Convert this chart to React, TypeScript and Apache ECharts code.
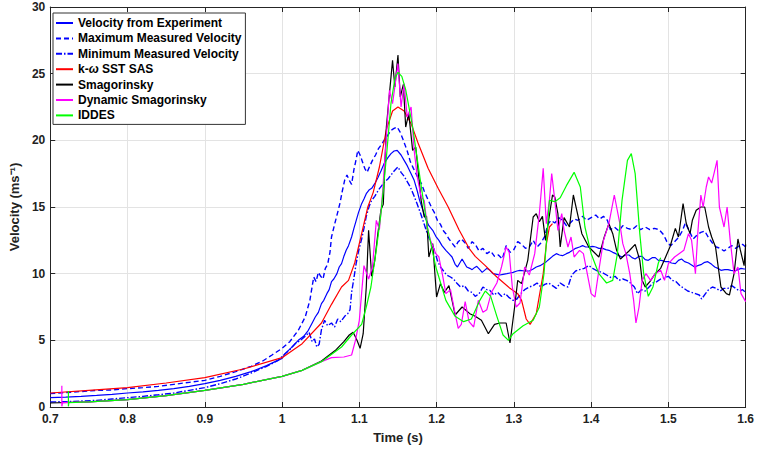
import React, { useEffect, useRef } from "react";
import * as echarts from "echarts";

type P = [number, number];

const xTicksMin = 0.7;
const xTicksMax = 1.6;
const yTicksMin = 0;
const yTicksMax = 30;

const seriesNames = [
  "Velocity from Experiment",
  "Maximum Measured Velocity",
  "Minimum Measured Velocity",
  "k-\u03c9 SST SAS",
  "Smagorinsky",
  "Dynamic Smagorinsky",
  "IDDES",
];

const expMean: P[] = [
  [0.700,0.70],[0.720,0.74],[0.740,0.80],[0.760,0.87],[0.780,0.95],[0.800,1.05],[0.820,1.14],[0.840,1.25],[0.860,1.38],[0.880,1.55],[0.900,1.75],[0.920,2.00],[0.940,2.30],[0.960,2.65],[0.980,3.10],[1.000,3.65],[1.004,4.00],[1.012,4.45],[1.021,5.00],[1.028,5.30],[1.034,5.75],[1.039,6.30],[1.043,6.75],[1.047,7.10],[1.051,7.75],[1.054,8.00],[1.058,8.50],[1.061,8.80],[1.064,9.40],[1.067,9.60],[1.071,10.00],[1.074,10.50],[1.077,10.75],[1.080,11.30],[1.083,11.75],[1.086,12.10],[1.090,12.75],[1.093,13.40],[1.096,14.00],[1.099,14.60],[1.103,15.25],[1.106,15.60],[1.109,16.00],[1.113,16.30],[1.116,16.40],[1.120,16.75],[1.124,17.20],[1.128,17.70],[1.132,18.25],[1.137,18.70],[1.141,19.00],[1.145,19.20],[1.149,19.25],[1.154,18.90],[1.158,18.50],[1.162,18.10],[1.167,17.50],[1.171,17.00],[1.175,16.20],[1.178,15.50],[1.182,14.80],[1.186,14.10],[1.190,13.60],[1.195,13.25],[1.199,12.80],[1.203,12.50],[1.207,12.10],[1.212,11.75],[1.216,11.50],[1.220,11.25],[1.224,10.70],[1.227,10.50],[1.230,10.80],[1.233,11.10],[1.236,10.80],[1.239,10.50],[1.243,10.40],[1.246,10.30],[1.249,10.45],[1.252,10.55],[1.256,10.30],[1.259,10.10],[1.262,10.25],[1.265,10.40],[1.269,10.25],[1.273,10.00],[1.278,9.95],[1.282,9.90],[1.286,9.95],[1.291,10.00],[1.295,10.05],[1.299,10.10],[1.304,10.20],[1.308,10.25],[1.314,10.20],[1.320,10.20],[1.325,10.35],[1.329,10.50],[1.334,10.60],[1.338,10.75],[1.342,10.90],[1.346,11.10],[1.350,11.30],[1.355,11.50],[1.359,11.40],[1.363,11.35],[1.368,11.50],[1.372,11.60],[1.376,11.75],[1.380,11.90],[1.385,12.00],[1.389,12.10],[1.393,12.00],[1.397,12.00],[1.402,12.05],[1.406,12.00],[1.410,11.90],[1.415,11.90],[1.419,11.80],[1.423,11.75],[1.428,11.60],[1.432,11.50],[1.436,11.35],[1.440,11.25],[1.444,11.40],[1.449,11.40],[1.453,11.20],[1.457,11.10],[1.462,11.30],[1.466,11.30],[1.470,11.05],[1.474,11.00],[1.479,11.20],[1.483,11.20],[1.487,11.00],[1.491,11.00],[1.496,10.90],[1.500,10.90],[1.504,10.80],[1.509,10.75],[1.513,11.00],[1.517,11.10],[1.521,10.90],[1.526,10.80],[1.530,10.65],[1.534,10.50],[1.538,10.60],[1.543,10.70],[1.547,10.85],[1.551,10.90],[1.556,10.70],[1.560,10.50],[1.564,10.40],[1.568,10.25],[1.573,10.30],[1.577,10.30],[1.581,10.25],[1.586,10.20],[1.590,10.30],[1.594,10.40],[1.598,10.35],[1.600,10.35],
];

const expMax: P[] = [
  [0.700,1.00],[0.720,1.08],[0.740,1.16],[0.760,1.24],[0.780,1.28],[0.800,1.38],[0.820,1.45],[0.840,1.55],[0.860,1.70],[0.880,1.85],[0.900,2.00],[0.920,2.30],[0.940,2.65],[0.960,3.05],[0.975,3.45],[0.987,3.90],[1.000,4.40],[1.010,4.90],[1.021,5.75],[1.030,6.75],[1.036,8.00],[1.041,9.75],[1.044,9.40],[1.047,10.10],[1.050,9.80],[1.053,9.60],[1.056,10.40],[1.059,10.70],[1.062,11.60],[1.064,12.75],[1.068,13.70],[1.072,14.60],[1.075,15.30],[1.078,16.20],[1.081,17.00],[1.084,17.40],[1.087,17.00],[1.090,16.70],[1.093,17.80],[1.096,18.60],[1.098,19.25],[1.101,18.90],[1.104,18.40],[1.107,17.90],[1.110,17.60],[1.113,18.00],[1.117,18.50],[1.121,18.90],[1.125,19.40],[1.129,19.70],[1.133,20.10],[1.137,20.40],[1.141,20.75],[1.145,20.90],[1.149,21.00],[1.153,20.60],[1.157,20.00],[1.162,19.20],[1.166,18.40],[1.170,17.90],[1.175,17.30],[1.180,16.80],[1.184,16.20],[1.190,15.40],[1.194,14.90],[1.197,14.60],[1.201,14.00],[1.205,13.70],[1.209,13.20],[1.212,13.00],[1.216,12.60],[1.220,12.30],[1.224,12.00],[1.228,12.40],[1.232,12.60],[1.237,12.30],[1.241,11.90],[1.246,12.40],[1.250,12.20],[1.255,11.70],[1.260,11.90],[1.265,11.50],[1.270,11.70],[1.275,11.30],[1.280,11.40],[1.285,11.10],[1.290,12.10],[1.295,11.60],[1.300,11.80],[1.305,12.40],[1.310,12.20],[1.315,11.90],[1.320,12.00],[1.325,12.50],[1.330,12.00],[1.335,12.30],[1.340,12.80],[1.344,13.70],[1.348,14.00],[1.353,13.80],[1.358,14.20],[1.363,14.00],[1.368,13.60],[1.373,13.80],[1.378,14.10],[1.383,14.00],[1.389,14.30],[1.394,14.00],[1.400,14.20],[1.406,14.40],[1.411,14.10],[1.416,14.30],[1.421,14.00],[1.425,13.30],[1.430,13.50],[1.436,13.20],[1.441,13.60],[1.447,13.40],[1.453,13.30],[1.459,13.60],[1.464,13.30],[1.470,13.50],[1.476,13.30],[1.482,13.40],[1.488,13.30],[1.494,12.90],[1.498,12.40],[1.503,12.10],[1.508,12.40],[1.513,12.70],[1.518,13.20],[1.522,13.80],[1.527,13.20],[1.532,12.60],[1.537,12.90],[1.542,13.10],[1.547,13.20],[1.552,12.70],[1.557,12.30],[1.562,12.00],[1.567,11.90],[1.572,11.70],[1.577,11.90],[1.582,12.10],[1.587,11.90],[1.592,12.10],[1.596,12.20],[1.600,12.00],
];

const expMin: P[] = [
  [0.700,0.38],[0.720,0.40],[0.740,0.45],[0.760,0.50],[0.780,0.60],[0.800,0.70],[0.820,0.80],[0.840,0.92],[0.860,1.05],[0.880,1.25],[0.900,1.45],[0.920,1.75],[0.940,2.10],[0.960,2.55],[0.980,3.05],[0.995,3.50],[1.004,4.00],[1.010,4.30],[1.017,4.75],[1.024,5.00],[1.030,5.30],[1.035,5.60],[1.039,4.90],[1.042,5.10],[1.045,4.50],[1.048,4.70],[1.051,5.80],[1.055,6.50],[1.059,6.10],[1.064,6.30],[1.068,6.00],[1.072,6.60],[1.076,6.40],[1.081,6.80],[1.085,7.00],[1.088,7.30],[1.090,8.60],[1.092,9.30],[1.096,10.80],[1.099,11.70],[1.103,12.60],[1.106,13.40],[1.109,14.30],[1.113,15.10],[1.116,15.50],[1.120,15.80],[1.125,16.30],[1.129,16.60],[1.133,16.90],[1.137,17.10],[1.141,17.40],[1.145,17.70],[1.150,18.00],[1.154,17.60],[1.158,17.30],[1.162,16.90],[1.166,16.50],[1.171,15.80],[1.175,15.20],[1.180,14.40],[1.184,13.70],[1.188,13.00],[1.192,12.40],[1.197,11.80],[1.201,11.00],[1.205,10.50],[1.209,10.20],[1.213,9.90],[1.218,9.75],[1.222,9.60],[1.226,9.30],[1.231,9.00],[1.236,9.10],[1.241,8.70],[1.246,8.60],[1.250,8.30],[1.255,8.50],[1.260,9.00],[1.265,8.80],[1.269,8.75],[1.274,8.40],[1.279,8.60],[1.284,8.30],[1.289,8.50],[1.294,8.20],[1.299,8.00],[1.304,8.10],[1.309,8.50],[1.314,8.80],[1.320,9.00],[1.325,9.10],[1.330,9.30],[1.335,9.00],[1.340,9.20],[1.345,9.30],[1.350,9.10],[1.355,8.90],[1.360,9.30],[1.365,9.10],[1.370,9.00],[1.375,9.90],[1.380,10.20],[1.385,10.30],[1.391,10.40],[1.397,10.60],[1.402,10.40],[1.408,10.20],[1.414,10.10],[1.420,9.90],[1.426,9.70],[1.431,9.80],[1.436,9.50],[1.441,9.60],[1.446,9.50],[1.451,9.30],[1.456,9.00],[1.460,8.50],[1.465,8.80],[1.470,8.70],[1.475,9.00],[1.480,9.30],[1.485,9.40],[1.490,9.60],[1.495,9.70],[1.500,9.80],[1.505,9.50],[1.510,9.40],[1.515,9.10],[1.520,8.90],[1.525,8.70],[1.530,8.60],[1.535,8.50],[1.540,8.40],[1.543,8.10],[1.548,8.50],[1.552,8.80],[1.557,9.00],[1.562,8.90],[1.567,8.70],[1.572,8.90],[1.577,8.90],[1.582,9.10],[1.587,8.90],[1.592,8.70],[1.596,8.80],[1.600,8.60],
];

const sstSas: P[] = [
  [0.700,1.05],[0.750,1.25],[0.800,1.45],[0.850,1.80],[0.900,2.20],[0.950,2.85],[1.000,3.70],[1.026,4.75],[1.051,6.30],[1.064,7.70],[1.077,9.00],[1.086,9.50],[1.094,10.80],[1.103,13.00],[1.111,15.00],[1.118,16.10],[1.126,18.00],[1.135,20.80],[1.143,22.20],[1.150,22.50],[1.158,22.20],[1.167,21.25],[1.176,19.80],[1.189,17.90],[1.202,16.40],[1.215,15.00],[1.229,13.30],[1.242,11.90],[1.250,11.30],[1.263,10.60],[1.278,9.75],[1.295,8.90],[1.305,8.50],[1.310,8.00],[1.316,6.60],[1.321,6.20],[1.329,7.00],[1.338,10.00],[1.342,12.20],[1.346,13.50],[1.350,13.75],
];

const smagorinsky: P[] = [
  [0.700,0.30],[0.750,0.38],[0.800,0.55],[0.850,0.85],[0.900,1.25],[0.950,1.70],[1.000,2.30],[1.026,2.75],[1.051,3.45],[1.070,4.30],[1.080,4.90],[1.087,5.40],[1.092,5.60],[1.097,5.00],[1.101,4.40],[1.105,5.50],[1.109,9.00],[1.112,13.25],[1.116,9.80],[1.120,11.00],[1.124,13.00],[1.128,14.80],[1.131,15.20],[1.135,21.00],[1.139,23.50],[1.143,26.00],[1.146,24.00],[1.150,26.40],[1.153,23.25],[1.157,24.20],[1.160,21.00],[1.164,22.00],[1.169,19.25],[1.173,19.50],[1.180,15.50],[1.184,14.25],[1.187,14.30],[1.190,11.25],[1.195,12.25],[1.200,8.25],[1.205,9.25],[1.210,8.60],[1.216,9.10],[1.224,6.90],[1.233,7.50],[1.243,7.00],[1.250,6.80],[1.258,6.50],[1.267,5.50],[1.275,6.20],[1.282,6.30],[1.290,6.30],[1.295,4.80],[1.301,7.50],[1.305,9.50],[1.310,9.25],[1.318,11.00],[1.325,14.25],[1.329,14.50],[1.333,13.90],[1.337,14.30],[1.341,12.50],[1.345,14.00],[1.350,15.90],[1.353,15.75],[1.357,14.50],[1.360,12.00],[1.365,14.20],[1.372,13.50],[1.377,15.90],[1.382,14.60],[1.388,13.00],[1.397,12.00],[1.410,11.25],[1.417,12.75],[1.423,13.75],[1.428,13.00],[1.433,11.75],[1.438,11.10],[1.449,11.70],[1.457,12.20],[1.463,11.00],[1.466,9.50],[1.470,9.00],[1.476,9.40],[1.483,10.00],[1.490,10.40],[1.496,11.20],[1.502,12.00],[1.509,13.40],[1.513,12.75],[1.519,15.25],[1.523,13.80],[1.528,13.00],[1.531,14.00],[1.536,14.75],[1.542,15.00],[1.547,15.00],[1.552,13.50],[1.556,12.75],[1.561,12.00],[1.568,9.00],[1.575,8.50],[1.579,8.40],[1.585,10.00],[1.590,12.60],[1.593,11.80],[1.598,10.60],[1.600,12.20],
];

const dynSmagorinsky: P[] = [
  [0.715,1.60],[0.715,0.05],[0.716,0.33],[0.750,0.38],[0.800,0.55],[0.850,0.85],[0.900,1.25],[0.950,1.70],[1.000,2.30],[1.026,2.75],[1.051,3.40],[1.064,3.70],[1.080,3.75],[1.090,3.90],[1.095,5.00],[1.100,6.50],[1.106,10.60],[1.112,9.60],[1.117,10.50],[1.122,14.00],[1.126,13.30],[1.130,16.00],[1.135,20.25],[1.139,23.75],[1.143,22.75],[1.150,25.75],[1.154,22.50],[1.158,24.25],[1.162,21.75],[1.167,22.50],[1.171,19.25],[1.175,17.25],[1.180,15.75],[1.184,15.50],[1.188,13.50],[1.192,12.50],[1.199,11.50],[1.203,11.25],[1.208,9.80],[1.212,8.50],[1.218,8.80],[1.224,7.00],[1.228,5.90],[1.232,6.20],[1.237,7.90],[1.242,6.40],[1.248,6.00],[1.254,8.00],[1.260,7.10],[1.265,7.30],[1.271,8.60],[1.278,9.30],[1.284,10.50],[1.290,12.00],[1.294,11.60],[1.298,9.00],[1.303,7.50],[1.308,7.80],[1.314,10.50],[1.320,9.90],[1.327,11.50],[1.333,14.50],[1.338,17.90],[1.342,13.75],[1.346,15.50],[1.349,17.50],[1.353,15.50],[1.357,13.25],[1.362,14.50],[1.365,13.25],[1.370,12.00],[1.374,12.75],[1.378,11.25],[1.385,11.75],[1.390,11.50],[1.395,10.00],[1.400,8.50],[1.405,8.25],[1.410,10.25],[1.416,12.50],[1.423,13.75],[1.430,15.90],[1.433,15.00],[1.437,13.80],[1.441,12.25],[1.445,11.50],[1.450,10.00],[1.455,8.00],[1.458,6.30],[1.462,7.50],[1.466,9.50],[1.471,10.00],[1.477,9.50],[1.483,10.00],[1.490,10.25],[1.495,9.50],[1.500,10.75],[1.508,11.25],[1.520,11.75],[1.526,13.00],[1.530,12.50],[1.535,10.00],[1.538,13.00],[1.542,15.90],[1.545,15.00],[1.549,16.50],[1.552,17.25],[1.556,16.80],[1.559,17.50],[1.563,18.50],[1.566,15.00],[1.569,14.25],[1.572,13.50],[1.576,15.00],[1.580,12.50],[1.585,10.00],[1.590,10.50],[1.594,8.50],[1.600,7.90],
];

const iddes: P[] = [
  [0.7235,1.20],[0.7235,0.05],[0.724,0.33],[0.750,0.38],[0.800,0.55],[0.850,0.85],[0.900,1.25],[0.950,1.70],[1.000,2.30],[1.026,2.75],[1.051,3.40],[1.077,4.50],[1.090,5.40],[1.103,6.20],[1.109,7.50],[1.115,9.00],[1.122,11.80],[1.128,14.50],[1.135,18.70],[1.141,22.80],[1.146,24.60],[1.150,25.10],[1.155,24.80],[1.160,23.80],[1.169,21.00],[1.179,17.00],[1.188,13.50],[1.199,10.50],[1.212,8.00],[1.224,6.80],[1.235,6.40],[1.245,6.60],[1.256,8.00],[1.263,8.70],[1.270,8.30],[1.278,6.80],[1.286,5.40],[1.293,5.00],[1.299,5.50],[1.312,6.10],[1.325,6.50],[1.333,7.50],[1.339,10.00],[1.343,13.00],[1.346,15.50],[1.353,15.40],[1.360,15.70],[1.368,16.60],[1.378,17.60],[1.386,16.50],[1.392,13.50],[1.400,11.50],[1.410,10.00],[1.420,9.30],[1.428,9.50],[1.434,11.50],[1.440,15.50],[1.447,18.50],[1.452,19.00],[1.457,17.50],[1.463,13.00],[1.468,10.00],[1.474,8.30],[1.480,9.00],[1.487,10.80],[1.490,11.20],
];

const FONT = "'Liberation Sans', Arial, Helvetica, sans-serif";
const TXT = "#222222";

export default function App() {
  const ref = useRef<HTMLDivElement>(null);
  useEffect(() => {
    if (!ref.current) return;
    const chart = echarts.init(ref.current, null, { renderer: "svg" });
    const mk = (name: string, data: P[], color: string, width: number, type: any) => ({
      name,
      type: "line",
      data,
      symbol: "none",
      showSymbol: false,
      xAxisIndex: 0,
      yAxisIndex: 0,
      lineStyle: { color, width, type },
      itemStyle: { color },
      emphasis: { disabled: true },
    });
    const option: any = {
      animation: false,
      backgroundColor: "#ffffff",
      grid: { left: 46, right: 9, top: 7, bottom: 42, containLabel: false },
      legend: {
        orient: "vertical",
        left: 53,
        top: 13,
        itemWidth: 17,
        itemHeight: 10,
        itemGap: 3.4,
        padding: [4, 4, 3, 2],
        backgroundColor: "#ffffff",
        borderColor: "#333333",
        borderWidth: 1,
        borderRadius: 0,
        itemStyle: { opacity: 0 },
        data: seriesNames,
        formatter: (name: string) =>
          name === seriesNames[3] ? "k-{i|\u03c9} SST SAS" : name,
        textStyle: {
          fontFamily: FONT,
          fontSize: 12,
          fontWeight: "bold",
          color: "#000",
          rich: {
            i: { fontFamily: FONT, fontSize: 12, fontStyle: "italic", color: "#000" },
          },
        },
      },
      xAxis: [
        {
          type: "value",
          min: xTicksMin,
          max: xTicksMax,
          interval: 0.1,
          name: "Time (s)",
          nameLocation: "middle",
          nameGap: 24,
          nameTextStyle: { fontFamily: FONT, fontSize: 13, fontWeight: "bold", color: TXT },
          axisLine: { show: true, onZero: false, lineStyle: { color: "#262626", width: 1 } },
          axisTick: { show: true, inside: true, length: 5, lineStyle: { color: "#262626" } },
          axisLabel: { fontFamily: FONT, fontSize: 12, fontWeight: "bold", color: TXT, margin: 6 },
          splitLine: { show: true, lineStyle: { color: "#e3e3e3", width: 1 } },
        },
        {
          type: "value",
          position: "top",
          min: xTicksMin,
          max: xTicksMax,
          interval: 0.1,
          axisLine: { show: true, onZero: false, lineStyle: { color: "#262626", width: 1 } },
          axisTick: { show: true, inside: true, length: 5, lineStyle: { color: "#262626" } },
          axisLabel: { show: false },
          splitLine: { show: false },
        },
      ],
      yAxis: [
        {
          type: "value",
          min: yTicksMin,
          max: yTicksMax,
          interval: 5,
          name: "Velocity (ms\u207B\u00B9)",
          nameLocation: "middle",
          nameGap: 25,
          nameTextStyle: { fontFamily: FONT, fontSize: 13, fontWeight: "bold", color: TXT },
          axisLine: { show: true, onZero: false, lineStyle: { color: "#262626", width: 1 } },
          axisTick: { show: true, inside: true, length: 5, lineStyle: { color: "#262626" } },
          axisLabel: { fontFamily: FONT, fontSize: 12, fontWeight: "bold", color: TXT, margin: 5 },
          splitLine: { show: true, lineStyle: { color: "#e3e3e3", width: 1 } },
        },
        {
          type: "value",
          position: "right",
          min: yTicksMin,
          max: yTicksMax,
          interval: 5,
          axisLine: { show: true, onZero: false, lineStyle: { color: "#262626", width: 1 } },
          axisTick: { show: true, inside: true, length: 5, lineStyle: { color: "#262626" } },
          axisLabel: { show: false },
          splitLine: { show: false },
        },
      ],
      series: [
        mk(seriesNames[0], expMean, "#0000ff", 1.2, "solid"),
        mk(seriesNames[1], expMax, "#0000ff", 1.4, [5, 3]),
        mk(seriesNames[2], expMin, "#0000ff", 1.4, [6, 2, 1.5, 2]),
        mk(seriesNames[3], sstSas, "#ff0000", 1.2, "solid"),
        mk(seriesNames[4], smagorinsky, "#000000", 1.2, "solid"),
        mk(seriesNames[5], dynSmagorinsky, "#ff00ff", 1.2, "solid"),
        mk(seriesNames[6], iddes, "#00ff00", 1.2, "solid"),
      ],
    };
    chart.setOption(option);
    return () => chart.dispose();
  }, []);
  return (
    <div
      ref={ref}
      style={{ position: "absolute", left: 0, top: 0, width: 757, height: 449, background: "#fff" }}
    />
  );
}
